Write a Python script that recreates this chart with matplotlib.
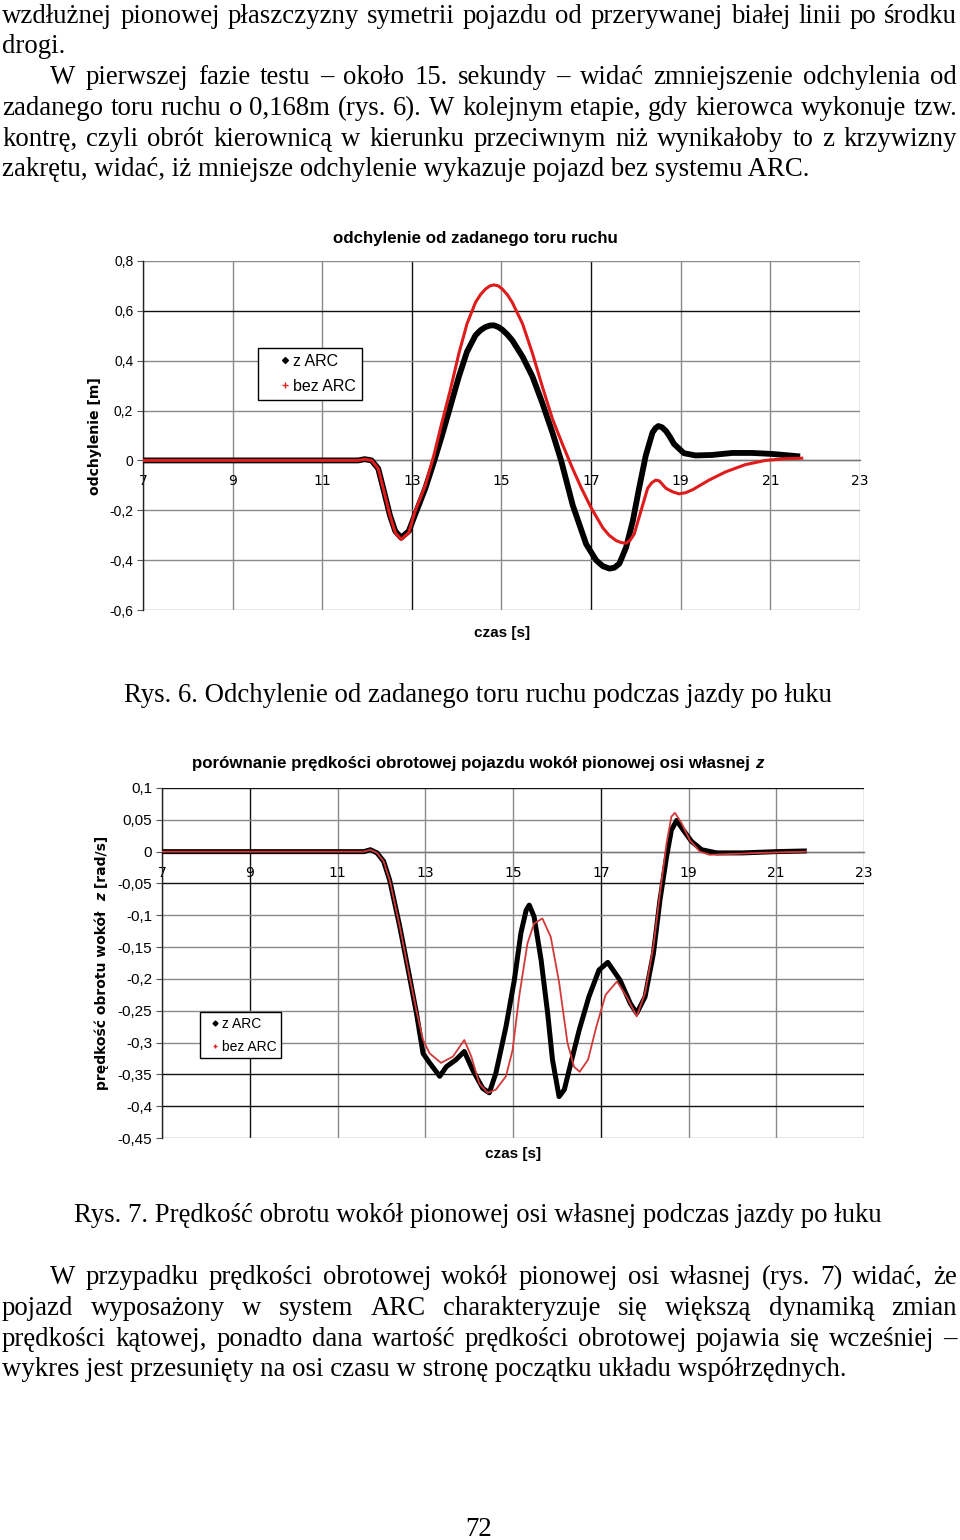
import matplotlib
matplotlib.use("Agg")
import matplotlib.pyplot as plt
from matplotlib import font_manager
from matplotlib.lines import Line2D

W, H = 960, 1540

# rys. 6 - odchylenie od zadanego toru ruchu [m]
dev_t_arc = [7.0, 8.0, 9.0, 10.0, 11.0, 11.8, 11.95, 12.1, 12.25, 12.4, 12.51, 12.63, 12.76,
             12.93, 13.07, 13.3, 13.49, 13.67, 13.86, 14.05, 14.23, 14.42, 14.53, 14.64, 14.74,
             14.83, 14.93, 15.02, 15.13, 15.24, 15.47, 15.69, 15.91, 16.14, 16.33, 16.59, 16.89,
             17.11, 17.26, 17.41, 17.52, 17.63, 17.78, 17.93, 18.07, 18.22, 18.37, 18.44, 18.5,
             18.58, 18.67, 18.76, 18.85, 19.07, 19.33, 19.7, 20.15, 20.59, 21.04, 21.6]
dev_arc = [0, 0, 0, 0, 0, 0.0, 0.005, 0.0, -0.033, -0.14, -0.22, -0.284, -0.31,
           -0.284, -0.218, -0.112, -0.007, 0.099, 0.218, 0.337, 0.436, 0.502, 0.522, 0.535, 0.541,
           0.542, 0.535, 0.524, 0.505, 0.482, 0.416, 0.337, 0.231, 0.11, 0.0, -0.18, -0.336,
           -0.40, -0.424, -0.434, -0.43, -0.414, -0.349, -0.243, -0.112, 0.02, 0.112, 0.13, 0.138,
           0.133, 0.118, 0.094, 0.066, 0.029, 0.02, 0.022, 0.03, 0.03, 0.026, 0.017]
dev_t_bez = [7.0, 8.0, 9.0, 10.0, 11.0, 11.8, 11.95, 12.1, 12.25, 12.4, 12.51, 12.63, 12.76,
             12.93, 13.07, 13.3, 13.49, 13.67, 13.86, 14.05, 14.23, 14.42, 14.53, 14.64, 14.74,
             14.83, 14.93, 15.02, 15.13, 15.24, 15.47, 15.69, 15.91, 16.14, 16.36, 16.58, 16.78,
             17.0, 17.26, 17.4, 17.56, 17.68, 17.78, 17.87, 17.96, 18.11, 18.26, 18.35, 18.44,
             18.52, 18.67, 18.82, 18.96, 19.1, 19.26, 19.63, 20.0, 20.44, 20.89, 21.33, 21.7]
dev_bez = [0, 0, 0, 0, 0, 0.0, 0.005, 0.0, -0.033, -0.14, -0.22, -0.29, -0.317,
           -0.29, -0.205, -0.1, 0.02, 0.152, 0.284, 0.43, 0.548, 0.634, 0.665, 0.687, 0.7,
           0.704, 0.7, 0.687, 0.665, 0.634, 0.548, 0.43, 0.297, 0.165, 0.065, -0.03, -0.11,
           -0.19, -0.27, -0.3, -0.322, -0.33, -0.332, -0.32, -0.296, -0.204, -0.112, -0.09, -0.079,
           -0.082, -0.112, -0.126, -0.134, -0.13, -0.118, -0.079, -0.046, -0.017, 0.0, 0.007, 0.009]

# rys. 7 - predkosc obrotu wokol osi z [rad/s]
yaw_t_arc = [7.0, 8.0, 9.0, 10.0, 11.0, 11.6, 11.75, 11.9, 12.05, 12.19, 12.42, 12.64, 12.8,
             12.95, 13.1, 13.33, 13.48, 13.7, 13.89, 14.08, 14.31, 14.46, 14.61, 14.84, 15.03,
             15.18, 15.3, 15.37, 15.48, 15.64, 15.79, 15.9, 16.05, 16.17, 16.32, 16.51, 16.73,
             16.96, 17.16, 17.44, 17.67, 17.82, 18.01, 18.2, 18.35, 18.5, 18.61, 18.73, 18.88,
             19.07, 19.3, 19.64, 20.24, 21.0, 21.64]
yaw_arc = [0, 0, 0, 0, 0, 0.0, 0.003, -0.002, -0.015, -0.045, -0.118, -0.196, -0.254,
           -0.317, -0.332, -0.353, -0.338, -0.327, -0.314, -0.343, -0.372, -0.379, -0.348, -0.275, -0.202,
           -0.128, -0.092, -0.084, -0.102, -0.17, -0.254, -0.327, -0.385, -0.374, -0.332, -0.28, -0.228,
           -0.186, -0.174, -0.202, -0.238, -0.254, -0.228, -0.16, -0.076, -0.008, 0.034, 0.049, 0.034,
           0.016, 0.003, -0.002, -0.002, 0.0, 0.001]
yaw_t_bez = [7.0, 8.0, 9.0, 10.0, 11.0, 11.6, 11.75, 11.9, 12.05, 12.19, 12.42, 12.64, 12.8,
             12.95, 13.1, 13.36, 13.63, 13.89, 14.05, 14.23, 14.42, 14.61, 14.84, 14.99, 15.14,
             15.33, 15.48, 15.67, 15.86, 16.05, 16.24, 16.39, 16.52, 16.71, 16.9, 17.11, 17.37,
             17.59, 17.82, 18.01, 18.2, 18.35, 18.5, 18.61, 18.69, 18.84, 19.03, 19.26, 19.48,
             19.86, 20.62, 21.68]
yaw_bez = [0, 0, 0, 0, 0, 0.0, 0.003, -0.002, -0.015, -0.045, -0.118, -0.196, -0.25,
           -0.296, -0.317, -0.332, -0.322, -0.296, -0.322, -0.364, -0.379, -0.374, -0.353, -0.312, -0.228,
           -0.144, -0.113, -0.105, -0.134, -0.205, -0.3, -0.338, -0.346, -0.327, -0.275, -0.225, -0.204,
           -0.228, -0.259, -0.222, -0.149, -0.065, 0.013, 0.055, 0.061, 0.045, 0.018, 0.0, -0.005,
           -0.004, -0.002, 0.0]

time_ticks = [7, 9, 11, 13, 15, 17, 19, 21, 23]
dev_ticks = [0.8, 0.6, 0.4, 0.2, 0, -0.2, -0.4, -0.6]
dev_labels = ['0,8', '0,6', '0,4', '0,2', '0', '-0,2', '-0,4', '-0,6']
yaw_ticks = [0.1, 0.05, 0, -0.05, -0.1, -0.15, -0.2, -0.25, -0.3, -0.35, -0.4, -0.45]
yaw_labels = ['0,1', '0,05', '0', '-0,05', '-0,1', '-0,15', '-0,2', '-0,25', '-0,3',
              '-0,35', '-0,4', '-0,45']
series_names = ['z ARC', 'bez ARC']

text_top = [
    "wzdłużnej pionowej płaszczyzny symetrii pojazdu od przerywanej białej linii po środku",
    "drogi.",
    "W pierwszej fazie testu – około 15. sekundy – widać zmniejszenie odchylenia od",
    "zadanego toru ruchu o 0,168m (rys. 6). W kolejnym etapie, gdy kierowca wykonuje tzw.",
    "kontrę, czyli obrót kierownicą w kierunku przeciwnym niż wynikałoby to z krzywizny",
    "zakrętu, widać, iż mniejsze odchylenie wykazuje pojazd bez systemu ARC.",
]
text_bottom = [
    "W przypadku prędkości obrotowej wokół pionowej osi własnej (rys. 7) widać, że",
    "pojazd wyposażony w system ARC charakteryzuje się większą dynamiką zmian",
    "prędkości kątowej, ponadto dana wartość prędkości obrotowej pojawia się wcześniej –",
    "wykres jest przesunięty na osi czasu w stronę początku układu współrzędnych.",
]
caption6 = "Rys. 6. Odchylenie od zadanego toru ruchu podczas jazdy po łuku"
caption7 = "Rys. 7. Prędkość obrotu wokół pionowej osi własnej podczas jazdy po łuku"
page_no = "72"

installed = {f.name for f in font_manager.fontManager.ttflist}
NARROW = 'Liberation Sans Narrow' if 'Liberation Sans Narrow' in installed else 'Liberation Sans'
SERIF = 'Liberation Serif'
BODY = 19.25

fig = plt.figure(figsize=(W / 100, H / 100), dpi=100)
fig.patch.set_facecolor('white')
renderer = fig.canvas.get_renderer()


def fx(px):
    return px / W


def fy(px):
    return 1 - px / H


def body_line(s, x0, y, justify, x1=957):
    if not justify:
        fig.text(fx(x0), fy(y), s, fontsize=BODY, family=SERIF, va='baseline')
        return
    words = s.split()
    arts, widths = [], []
    for w in words:
        t = fig.text(0, fy(y), w, fontsize=BODY, family=SERIF, va='baseline')
        arts.append(t)
        widths.append(t.get_window_extent(renderer).width)
    gap = (x1 - x0 - sum(widths)) / (len(words) - 1)
    x = x0
    for t, wd in zip(arts, widths):
        t.set_x(fx(x))
        x += wd + gap


def run(pieces, cx, base, rotation=0):
    # differently styled pieces of one label, laid end to end and centred on cx
    arts, lens = [], []
    for s, kw in pieces:
        t = fig.text(0, 0, s, rotation=rotation, rotation_mode='anchor',
                     ha='left', va='baseline', **kw)
        bb = t.get_window_extent(renderer)
        arts.append(t)
        lens.append(bb.width if rotation == 0 else bb.height)
    total = sum(lens)
    if rotation == 0:
        pos = cx - total / 2
        for t, ln in zip(arts, lens):
            t.set_position((fx(pos), fy(base)))
            pos += ln
    else:
        pos = cx + total / 2
        for t, ln in zip(arts, lens):
            t.set_position((fx(base), fy(pos)))
            pos -= ln


# page text
top_x = [2, 2, 50, 2, 2, 2]
top_y = [23, 53, 84, 115, 146, 176]
top_just = [True, False, True, True, True, False]
for s, x0, y, j in zip(text_top, top_x, top_y, top_just):
    body_line(s, x0, y, j)

bot_x = [50, 2, 2, 2]
bot_y = [1284, 1315, 1346, 1376]
bot_just = [True, True, True, False]
for s, x0, y, j in zip(text_bottom, bot_x, bot_y, bot_just):
    body_line(s, x0, y, j)

fig.text(fx(478), fy(702), caption6, fontsize=BODY, family=SERIF, ha='center', va='baseline')
fig.text(fx(478), fy(1222), caption7, fontsize=BODY, family=SERIF, ha='center', va='baseline')
fig.text(fx(479), fy(1536), page_no, fontsize=BODY, family=SERIF, ha='center', va='baseline')


def setup(ax, yticks, ylabels, ylim, dark_x, dark_y, fs):
    ax.set_xlim(7, 23)
    ax.set_ylim(*ylim)
    ax.set_xticks(time_ticks)
    ax.set_xticklabels([str(v) for v in time_ticks], family=NARROW, fontsize=fs)
    ax.set_yticks(yticks)
    ax.set_yticklabels(ylabels, family='Liberation Sans', fontsize=fs)
    ax.spines['bottom'].set_position(('data', 0))
    ax.spines['bottom'].set_color('#777777')
    ax.spines['bottom'].set_linewidth(1.0)
    ax.spines['left'].set_color('#222222')
    ax.spines['left'].set_linewidth(1.0)
    ax.spines['top'].set_visible(False)
    ax.spines['right'].set_visible(False)
    ax.tick_params(axis='x', length=0, pad=10)
    ax.tick_params(axis='y', length=4, width=0.8, color='#555555', pad=3)
    ax.grid(True, color='#8a8a8a', linewidth=1.0)
    ax.set_axisbelow(True)
    for v, gl in zip(time_ticks, ax.get_xgridlines()):
        if v in dark_x:
            gl.set_color('#111111')
    for v, gl in zip(yticks, ax.get_ygridlines()):
        if v in dark_y:
            gl.set_color('#111111')


def legend(ax, anchor, fs, ms, pad, hl, htp, ls):
    handles = [Line2D([], [], color='black', marker='D', markersize=ms, ls='none'),
               Line2D([], [], color='#dd2222', marker='+', markersize=ms + 1, ls='none')]
    leg = ax.legend(handles, series_names, loc='upper left', bbox_to_anchor=anchor,
                    frameon=True, fancybox=False, framealpha=1,
                    edgecolor='black', handlelength=hl, handletextpad=htp,
                    borderpad=pad, labelspacing=ls, borderaxespad=0,
                    prop={'family': 'Liberation Sans', 'size': fs})
    leg.get_frame().set_linewidth(1.0)


# rys. 6
ax1 = fig.add_axes([fx(143), fy(610), 717 / W, 349 / H])
setup(ax1, dev_ticks, dev_labels, (-0.6, 0.8), [13, 17], [0.6], 10)
ax1.plot(dev_t_arc, dev_arc, color='black', lw=4.2, solid_joinstyle='round', zorder=3)
ax1.plot(dev_t_bez, dev_bez, color='#e01b1b', lw=2.2, solid_joinstyle='round', zorder=4)
legend(ax1, (0.160, 0.751), 11.5, 3, 0.38, 2.64, -0.82, 0.62)

title_kw = dict(family=NARROW, fontsize=12.2, fontweight='bold')
run([("odchylenie od zadanego toru ruchu", title_kw)], 475, 243)
fig.text(fx(95), fy(436), "odchylenie [m]", rotation=90, ha='center', va='center',
         family='DejaVu Sans', fontweight='bold', fontsize=10.1)
fig.text(fx(502), fy(633), "czas [s]", ha='center', va='center',
         family='Liberation Sans', fontweight='bold', fontsize=11)

# rys. 7
ax2 = fig.add_axes([fx(162), fy(1138), 702 / W, 350 / H])
setup(ax2, yaw_ticks, yaw_labels, (-0.45, 0.1), [9, 17], [0.1, -0.05, -0.35, -0.4], 11)
ax2.plot(yaw_t_arc, yaw_arc, color='black', lw=3.6, solid_joinstyle='round', zorder=3)
ax2.plot(yaw_t_bez, yaw_bez, color='#d23a3a', lw=1.3, solid_joinstyle='round', zorder=4)
legend(ax2, (0.054, 0.36), 10, 2.5, 0.33, 1.5, -0.25, 0.65)

run([("porównanie prędkości obrotowej pojazdu wokół pionowej osi własnej ", title_kw),
     ("z", dict(title_kw, style='italic'))], 478, 768)
ylab_kw = dict(family='DejaVu Sans', fontweight='bold', fontsize=10.0)
run([("prędkość obrotu wokół  ", ylab_kw),
     ("z", dict(ylab_kw, style='italic')),
     (" [rad/s]", ylab_kw)], 963, 106, rotation=90)
fig.text(fx(513), fy(1154), "czas [s]", ha='center', va='center',
         family='Liberation Sans', fontweight='bold', fontsize=11)

fig.savefig('out.png', dpi=100, facecolor='white')
